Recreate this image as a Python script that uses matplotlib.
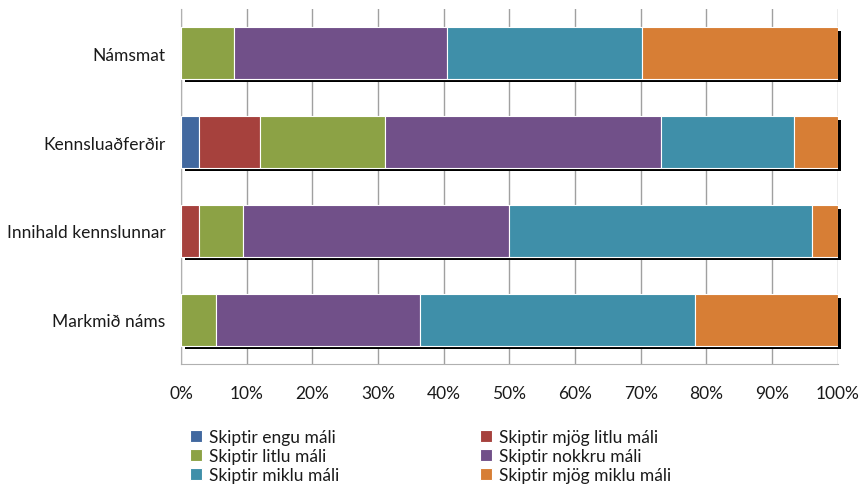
import matplotlib.pyplot as plt
import matplotlib.transforms as mtransforms
import numpy as np

plt.rcParams['font.family'] = ['Lato', 'DejaVu Sans']

categories = ["Námsmat", "Kennsluaðferðir", "Innihald kennslunnar", "Markmið náms"]
series = ["Skiptir engu máli", "Skiptir mjög litlu máli", "Skiptir litlu máli",
          "Skiptir nokkru máli", "Skiptir miklu máli", "Skiptir mjög miklu máli"]
# percent per category, one list per series
engu = [0.0, 2.7, 0.0, 0.0]
mjog_litlu = [0.0, 9.4, 2.7, 0.0]
litlu = [8.1, 18.9, 6.7, 5.3]
nokkru = [32.4, 42.0, 40.6, 31.1]
miklu = [29.7, 20.3, 46.0, 41.9]
mjog_miklu = [29.8, 6.7, 4.0, 21.7]
colors = ["#41689f", "#a6413d", "#8ca245", "#715089", "#3f8fa9", "#d77e35"]

values = np.array([engu, mjog_litlu, litlu, nokkru, miklu, mjog_miklu])

fig = plt.figure(figsize=(8.62, 4.89), dpi=100)
ax = fig.add_axes([0.21, 0.253, 0.762, 0.727])

y = np.arange(len(categories))
h = 0.58

# black drop shadow behind each bar
shadow = ax.transData + mtransforms.ScaledTranslation(0.035, -0.035, fig.dpi_scale_trans)
ax.barh(y, values.sum(axis=0), height=h, color="black", transform=shadow,
        zorder=2, clip_on=False)

left = np.zeros(len(categories))
bars = []
for vals, name, c in zip(values, series, colors):
    b = ax.barh(y, vals, left=left, height=h, color=c, edgecolor="white",
                linewidth=0.8, label=name, zorder=3)
    bars.append(b)
    left += vals

fs = 12.5
ax.set_xlim(0, 100)
ax.set_ylim(len(categories) - 0.5, -0.5)
ax.set_yticks(y)
ax.set_yticklabels(categories, fontsize=fs, color="#1a1a1a")
ax.set_xticks(np.arange(0, 101, 10))
ax.set_xticklabels([f"{v}%" for v in range(0, 101, 10)], fontsize=fs, color="#1a1a1a")
ax.tick_params(length=0)
ax.tick_params(axis='y', pad=11)
ax.tick_params(axis='x', pad=15)
ax.grid(axis='x', color="#a0a0a0", linewidth=1)
ax.set_axisbelow(True)
for s in ["top", "right"]:
    ax.spines[s].set_visible(False)
for s in ["left", "bottom"]:
    ax.spines[s].set_color("#b0b0b0")

order = [0, 2, 4, 1, 3, 5]
fig.legend([bars[i] for i in order], [series[i] for i in order],
           loc="upper left", bbox_to_anchor=(190 / 862, 1 - 430 / 489), ncol=2,
           frameon=False, fontsize=fs, handlelength=0.7, handleheight=0.7,
           handletextpad=0.4, labelspacing=0.18, columnspacing=8.1,
           borderaxespad=0, borderpad=0, labelcolor="#1a1a1a")

fig.savefig("out.png", dpi=100)
